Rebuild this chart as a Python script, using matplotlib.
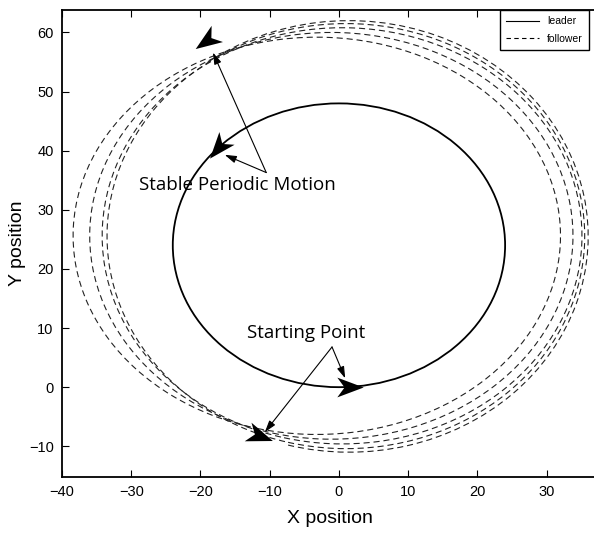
import matplotlib
matplotlib.use("Agg")
import matplotlib.pyplot as plt
from matplotlib.lines import Line2D
from matplotlib.markers import MarkerStyle
from matplotlib.patches import Arc, Circle
from matplotlib.path import Path
from matplotlib.transforms import Affine2D

# ---- leader: one circular orbit ----
LEADER_CENTER = (0.0, 24.0)
LEADER_RADIUS = 24.0

# ---- follower: one entry per lap (extents of each lap, in x/y units) ----
FOLLOWER_LEFT = [-38.4, -36.0, -34.2, -33.5, -33.1]
FOLLOWER_RIGHT = [32.0, 33.8, 35.1, 35.5, 36.0]
FOLLOWER_BOTTOM = [-8.0, -8.8, -9.6, -10.4, -11.0]
FOLLOWER_TOP = [59.2, 60.0, 60.8, 61.5, 62.0]
LAP_START_DEG = [256, 256, 256, 256, 256]
LAP_END_DEG = [616, 616, 616, 616, 485]

# ---- heading arrows: leader start, leader end, follower start, follower end ----
ARROW_X = [1.6, -17.5, -11.4, -19.2]
ARROW_Y = [0.0, 40.5, -8.3, 58.6]
ARROW_HEADING = [0, 230, -20, 215]

# ---- callouts ----
STABLE_TEXT_XY = (-14.7, 34.2)
STABLE_FROM = (-10.5, 36.3)
STABLE_TARGETS = [(-18.2, 56.6), (-16.5, 39.3)]
START_TEXT_XY = (-4.8, 9.2)
START_FROM = (-1.0, 6.8)
START_TARGETS = [(0.9, 1.5), (-10.7, -7.6)]

X_TICKS = [-40, -30, -20, -10, 0, 10, 20, 30]
Y_TICKS = [-10, 0, 10, 20, 30, 40, 50, 60]

TICK_FONT = "Liberation Sans"
NOTE_FONT = "Open Sans"

# notched arrowhead pointing along +x, centred on the origin
ARROW_PATH = Path(
    [(1.0, 0.0), (-1.0, 0.75), (-0.45, 0.0), (-1.0, -0.75), (1.0, 0.0)],
    [Path.MOVETO, Path.LINETO, Path.LINETO, Path.LINETO, Path.CLOSEPOLY],
)


def draw_orbits(ax):
    ax.add_patch(Circle(LEADER_CENTER, LEADER_RADIUS, fill=False,
                        edgecolor="black", linewidth=1.3, zorder=3))
    for left, right, bottom, top, t1, t2 in zip(
        FOLLOWER_LEFT, FOLLOWER_RIGHT, FOLLOWER_BOTTOM, FOLLOWER_TOP,
        LAP_START_DEG, LAP_END_DEG,
    ):
        center = ((left + right) / 2, (bottom + top) / 2)
        ax.add_patch(Arc(center, right - left, top - bottom, theta1=t1, theta2=t2,
                         edgecolor="#222222", linewidth=0.8,
                         linestyle=(0, (5.5, 3.5)), zorder=2))


def draw_heading_arrows(ax):
    for x, y, heading in zip(ARROW_X, ARROW_Y, ARROW_HEADING):
        marker = MarkerStyle(ARROW_PATH, transform=Affine2D().rotate_deg(heading))
        ax.plot([x], [y], linestyle="none", marker=marker, markersize=19,
                color="black", markeredgewidth=0, zorder=5)


def draw_callouts(ax):
    props = dict(arrowstyle="-|>,head_length=0.7,head_width=0.22",
                 color="black", linewidth=0.8, shrinkA=0, shrinkB=0)
    ax.text(*STABLE_TEXT_XY, "Stable Periodic Motion", ha="center", va="center",
            fontsize=13.5, family=NOTE_FONT, zorder=6)
    for target in STABLE_TARGETS:
        ax.annotate("", xy=target, xytext=STABLE_FROM, arrowprops=props, zorder=6)
    ax.text(*START_TEXT_XY, "Starting Point", ha="center", va="center",
            fontsize=13.5, family=NOTE_FONT, zorder=6)
    for target in START_TARGETS:
        ax.annotate("", xy=target, xytext=START_FROM, arrowprops=props, zorder=6)


def main():
    fig = plt.figure(figsize=(5.94, 5.34), dpi=100)
    ax = fig.add_axes([0.1044, 0.1067, 0.9033, 0.8746])

    draw_orbits(ax)
    draw_heading_arrows(ax)
    draw_callouts(ax)

    ax.set_xlim(-40, 37.5)
    ax.set_ylim(-15.2, 63.8)
    ax.set_xticks(X_TICKS)
    ax.set_yticks(Y_TICKS)
    ax.tick_params(direction="in", length=5, width=0.8, top=True, right=False,
                   labelsize=10.5, pad=6)
    for label in ax.get_xticklabels() + ax.get_yticklabels():
        label.set_fontfamily(TICK_FONT)
    for spine in ax.spines.values():
        spine.set_linewidth(1.3)

    ax.set_xlabel("X position", fontsize=14, family=TICK_FONT, labelpad=8)
    ax.set_ylabel("Y position", fontsize=14, family=TICK_FONT, labelpad=2)

    handles = [
        Line2D([], [], color="black", linewidth=0.8),
        Line2D([], [], color="black", linewidth=0.8, linestyle=(0, (4, 3))),
    ]
    leg = ax.legend(handles, ["leader", "follower"], loc="upper right",
                    bbox_to_anchor=(589 / 594, 1 - 10 / 534),
                    bbox_transform=fig.transFigure, borderaxespad=0,
                    fancybox=False, edgecolor="black", framealpha=1,
                    handlelength=3.1, labelspacing=0.7, borderpad=0.6,
                    prop={"family": TICK_FONT, "size": 7.5})
    leg.get_frame().set_linewidth(1.0)
    leg.set_zorder(10)

    fig.savefig("out.png", dpi=100)
    plt.close(fig)


if __name__ == "__main__":
    main()
